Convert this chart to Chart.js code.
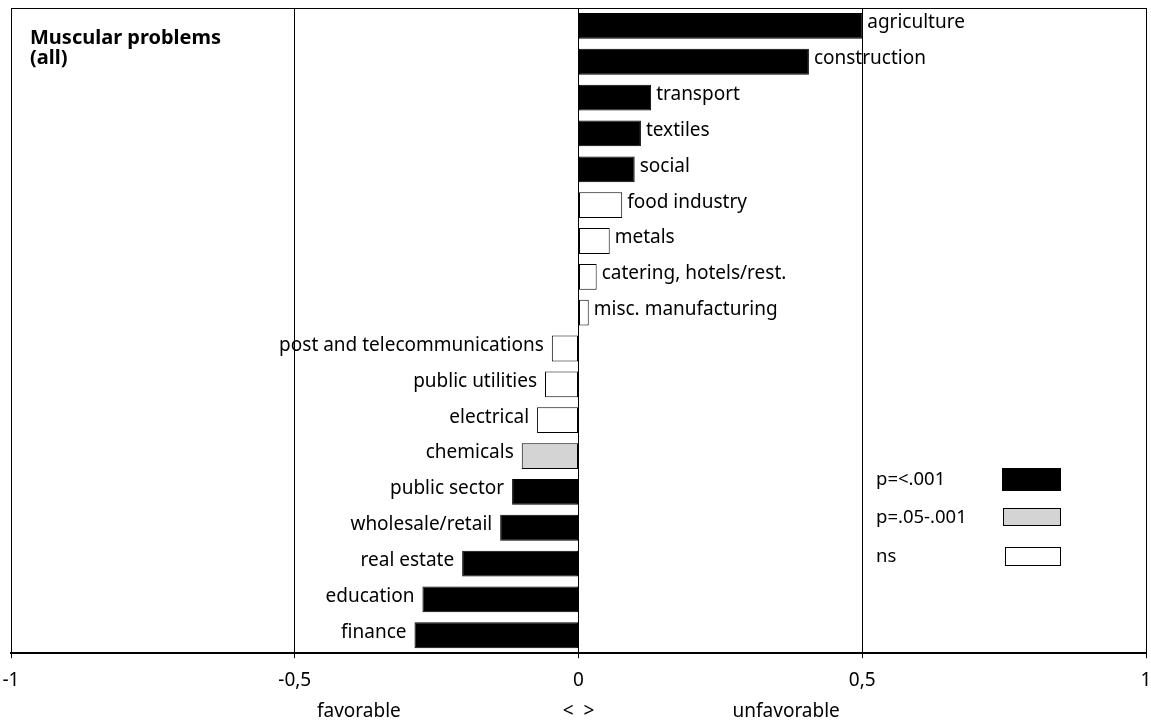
<!DOCTYPE html>
<html>
<head>
<meta charset="utf-8">
<script src="https://cdn.jsdelivr.net/npm/chart.js@4.4.1/dist/chart.umd.min.js"></script>
<style>
  html, body { margin: 0; padding: 0; background: #fff; }
  #wrap { width: 1151px; height: 724px; position: relative; }
</style>
</head>
<body>
<div id="wrap"><canvas id="chart"></canvas></div>
<script>
// sectors, top to bottom
const sectors = [
  'agriculture', 'construction', 'transport', 'textiles', 'social',
  'food industry', 'metals', 'catering, hotels/rest.', 'misc. manufacturing',
  'post and telecommunications', 'public utilities', 'electrical', 'chemicals',
  'public sector', 'wholesale/retail', 'real estate', 'education', 'finance'
];
const effects = [
  0.50, 0.406, 0.128, 0.110, 0.099,
  0.077, 0.055, 0.032, 0.018,
  -0.047, -0.059, -0.073, -0.100,
  -0.117, -0.138, -0.205, -0.275, -0.289
];
// 0 = p<.001, 1 = p=.05-.001, 2 = ns
const significance = [0, 0, 0, 0, 0, 2, 2, 2, 2, 2, 2, 2, 1, 0, 0, 0, 0, 0];
const sigLabels = ['p=<.001', 'p=.05-.001', 'ns'];
const sigColors = ['#000000', '#d4d4d4', '#ffffff'];
const xTicks = [-1, -0.5, 0, 0.5, 1];

const FONT = '"Noto Sans", "Open Sans", sans-serif';

// labels next to each bar + title, legend, direction captions
const annotations = {
  id: 'annotations',
  afterDraw(chart) {
    const ctx = chart.ctx;
    const area = chart.chartArea;
    const xs = chart.scales.x;
    ctx.save();

    // top frame line
    ctx.strokeStyle = '#000';
    ctx.lineWidth = 1;
    ctx.beginPath();
    ctx.moveTo(area.left, area.top + 0.5);
    ctx.lineTo(area.right, area.top + 0.5);
    ctx.stroke();

    // bar labels
    ctx.font = '19px ' + FONT;
    ctx.fillStyle = '#000';
    ctx.textBaseline = 'middle';
    chart.getDatasetMeta(0).data.forEach((bar, i) => {
      if (effects[i] >= 0) {
        ctx.textAlign = 'left';
        ctx.fillText(sectors[i], bar.x + 5, bar.y - 3);
      } else {
        ctx.textAlign = 'right';
        ctx.fillText(sectors[i], bar.x - 8, bar.y - 3);
      }
    });

    // title
    ctx.font = 'bold 20px ' + FONT;
    ctx.textAlign = 'left';
    ctx.fillText('Muscular problems', 30, 38);
    ctx.fillText('(all)', 30, 58);

    // legend
    ctx.font = '18.5px ' + FONT;
    const legendY = [480, 518, 557];
    const boxes = [[1002, 468, 59, 23], [1003, 508, 58, 18], [1005, 547, 56, 19]];
    sigLabels.forEach((lab, k) => {
      ctx.fillStyle = '#000';
      ctx.fillText(lab, 876, legendY[k]);
      const b = boxes[k];
      ctx.fillStyle = sigColors[k];
      ctx.fillRect(b[0], b[1], b[2], b[3]);
      ctx.strokeStyle = '#000';
      ctx.lineWidth = 1;
      ctx.strokeRect(b[0] + 0.5, b[1] + 0.5, b[2] - 1, b[3] - 1);
    });

    // direction captions under the axis
    ctx.fillStyle = '#000';
    ctx.textAlign = 'center';
    ctx.font = '19px ' + FONT;
    ctx.fillText('favorable', xs.getPixelForValue(-0.387), 712);
    ctx.fillText('<  >', xs.getPixelForValue(0), 712);
    ctx.fillText('unfavorable', xs.getPixelForValue(0.366), 712);

    ctx.restore();
  }
};

new Chart(document.getElementById('chart'), {
  type: 'bar',
  data: {
    labels: sectors,
    datasets: [{
      data: effects,
      backgroundColor: significance.map(s => sigColors[s]),
      borderColor: '#000',
      borderWidth: 1,
      borderSkipped: false,
      barPercentage: 0.72,
      categoryPercentage: 1.0
    }]
  },
  options: {
    indexAxis: 'y',
    responsive: true,
    maintainAspectRatio: false,
    animation: false,
    layout: { padding: { left: 11, right: 5, top: 8, bottom: 21 } },
    plugins: {
      legend: { display: false },
      tooltip: { enabled: false }
    },
    scales: {
      x: {
        min: -1,
        max: 1,
        afterBuildTicks: axis => { axis.ticks = xTicks.map(v => ({ value: v })); },
        afterFit: axis => { axis.paddingLeft = 0; axis.paddingRight = 0; },
        ticks: {
          color: '#000',
          padding: 11,
          maxRotation: 0,
          font: { family: FONT, size: 19 },
          callback: v => String(v).replace('.', ',')
        },
        grid: { color: '#000', lineWidth: 1, tickLength: 5 },
        border: { color: '#000', width: 2 }
      },
      y: { display: false }
    }
  },
  plugins: [annotations]
});
</script>
</body>
</html>
